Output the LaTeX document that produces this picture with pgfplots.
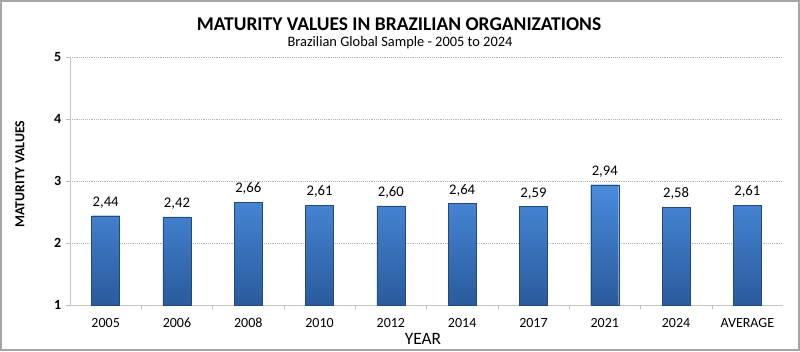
\documentclass[border=0pt]{standalone}
\usepackage{pgfplots}
\pgfplotsset{compat=1.18}
\usepackage{fontspec}
\setmainfont{Carlito}
\definecolor{barTop}{HTML}{4A8BDC}
\definecolor{barBot}{HTML}{2A5B9C}
\definecolor{frame}{HTML}{A6A6A6}
\begin{document}
\begin{tikzpicture}[x=0.75pt,y=0.75pt]
\path[use as bounding box] (0,0) rectangle (800,351);
\draw[draw=frame, line width=1.2pt, fill=white] (1,1) rectangle (799,350);
\node[font=\bfseries\fontsize{14.6}{17}\selectfont] at (399,327) {MATURITY VALUES IN BRAZILIAN ORGANIZATIONS};
\node[font=\fontsize{10.8}{13}\selectfont] at (400,308) {Brazilian Global Sample - 2005 to 2024};
\node[rotate=90, font=\bfseries\fontsize{10.3}{12}\selectfont] at (20,177) {MATURITY VALUES};
\node[font=\fontsize{13}{15}\selectfont] at (423,12) {YEAR};
\begin{axis}[
  at={(52.5pt,34.5pt)}, anchor=south west, scale only axis,
  width=534.75pt, height=186pt,
  xmin=-0.5, xmax=9.5, ymin=1, ymax=5,
  ytick={1,2,3,4,5},
  xtick={0,...,9},
  xticklabels={2005,2006,2008,2010,2012,2014,2017,2021,2024,AVERAGE},
  minor x tick num=1,
  major x tick style={draw=none},
  minor x tick style={draw=gray!50},
  tick align=outside,
  major tick length=3pt, minor tick length=3pt,
  axis x line*=bottom, axis y line*=left,
  axis line style={gray!45, -},
  ytick style={draw=gray!50},
  ymajorgrids, major grid style={gray!60, densely dotted, line width=0.5pt},
  /pgf/number format/assume math mode=true,
  xticklabel style={font=\fontsize{10.5}{12}\selectfont, text height=7.5pt, text depth=0pt, yshift=-2.5pt},
  yticklabel style={font=\bfseries\fontsize{10.5}{12}\selectfont},
  nodes near coords,
  nodes near coords style={font=\fontsize{11}{13}\selectfont, yshift=2pt, /pgf/number format/.cd, use comma, fixed, fixed zerofill, precision=2},
]
\addplot[ybar, bar width=21pt, draw=barBot!80!black, line width=0.3pt, top color=barTop, bottom color=barBot] coordinates {
(0,2.44) (1,2.42) (2,2.66) (3,2.61) (4,2.60) (5,2.64) (6,2.59) (7,2.94) (8,2.58) (9,2.61)};
\end{axis}
\end{tikzpicture}
\end{document}
